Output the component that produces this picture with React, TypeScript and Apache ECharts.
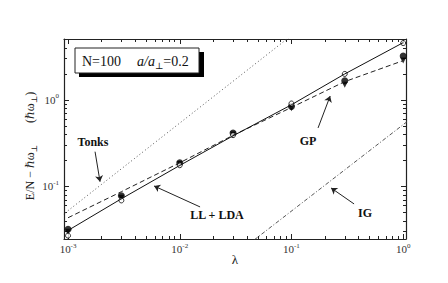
import React, { useEffect, useRef } from "react";
import * as echarts from "echarts";

// ---- data ----
const lambdas = [0.001, 0.003, 0.01, 0.03, 0.1, 0.3, 1];
const llLda = [0.031, 0.072, 0.175, 0.385, 0.88, 2.0, 4.6];
const gpLine = [0.0435, 0.087, 0.188, 0.39, 0.82, 1.63, 2.85];
const dmcFilled = [0.032, 0.078, 0.188, 0.415, 0.84, 1.67, 3.22];
const dmcTri = [0.03, 0.074, 0.182, 0.4, 0.8, 1.5, 2.86];
const dmcOpen = [0.027, 0.069, 0.176, 0.392, 0.91, 2.0, 4.55];
const tonksX = [0.000794, 0.1];
const tonksY = [0.0416, 5.57];
const igX = [0.03, 1.1];
const igY = [0.0156, 0.57];

const xMajor = [0.001, 0.01, 0.1, 1];
const yMajor = [0.1, 1];
const xMinor = [-3, -2, -1].flatMap((d) => [2, 3, 4, 5, 6, 7, 8, 9].map((m) => +(m * Math.pow(10, d)).toPrecision(3)));
const yMinor = [-2, -1, 0].flatMap((d) => [2, 3, 4, 5, 6, 7, 8, 9].map((m) => +(m * Math.pow(10, d)).toPrecision(3)));

// annotation arrows: [fromX, fromY, toX, toY] in data coordinates
const arrows = [
  [0.001745, 0.2525, 0.001934, 0.1136], // Tonks
  [0.173, 0.475, 0.222, 1.11], // GP
  [0.0152, 0.058, 0.00589, 0.1013], // LL + LDA
  [0.3635, 0.0628, 0.2262, 0.0961], // IG
];

const SERIF = "'Liberation Serif', 'DejaVu Serif', serif";
const AX = "#222";

const pairs = (xs: number[], ys: number[]) => xs.map((x, i) => [x, ys[i]]);

function logLabel(v: number) {
  const e = Math.round(Math.log10(v));
  return `{b|10}{s|${e}}`;
}

const labelRich = {
  b: { fontFamily: SERIF, fontSize: 11, color: "#333", lineHeight: 14, verticalAlign: "middle" },
  s: { fontFamily: SERIF, fontSize: 7, color: "#333", lineHeight: 7, verticalAlign: "top" },
};

export default function App() {
  const ref = useRef<HTMLDivElement>(null);
  useEffect(() => {
    if (!ref.current) return;
    const chart = echarts.init(ref.current, null, { renderer: "svg" });
    const xBase = { type: "log", min: 0.00092, max: 1.06, splitLine: { show: false } };
    const yBase = { type: "log", min: 0.0247, max: 5.07, splitLine: { show: false } };
    const line = { show: true, lineStyle: { color: AX, width: 1.2 } };
    const noLine = { show: false };
    const noLabel = { show: false };
    const major = (len: number, vals: number[]) => ({
      show: true,
      inside: true,
      length: len,
      customValues: vals,
      lineStyle: { color: AX, width: 1 },
    });
    const option: any = {
      animation: false,
      backgroundColor: "#fff",
      grid: { left: 64, right: 42, top: 39, bottom: 44, containLabel: false },
      xAxis: [
        {
          ...xBase,
          position: "bottom",
          axisLine: line,
          axisTick: major(5, xMajor),
          axisLabel: { show: true, margin: 3, customValues: xMajor, formatter: logLabel, rich: labelRich },
        },
        { ...xBase, position: "bottom", axisLine: noLine, axisTick: major(3, xMinor), axisLabel: noLabel },
        { ...xBase, position: "top", axisLine: line, axisTick: major(5, xMajor), axisLabel: noLabel },
        { ...xBase, position: "top", axisLine: noLine, axisTick: major(3, xMinor), axisLabel: noLabel },
      ],
      yAxis: [
        {
          ...yBase,
          position: "left",
          axisLine: line,
          axisTick: major(5, yMajor),
          axisLabel: { show: true, margin: 5, customValues: yMajor, formatter: logLabel, rich: labelRich },
        },
        { ...yBase, position: "left", axisLine: noLine, axisTick: major(3, yMinor), axisLabel: noLabel },
        { ...yBase, position: "right", axisLine: line, axisTick: major(5, yMajor), axisLabel: noLabel },
        { ...yBase, position: "right", axisLine: noLine, axisTick: major(3, yMinor), axisLabel: noLabel },
      ],
      series: [
        {
          name: "Tonks",
          type: "line",
          data: pairs(tonksX, tonksY),
          symbol: "none",
          lineStyle: { color: "#555", width: 1, type: [1, 2.5] },
          silent: true,
        },
        {
          name: "IG",
          type: "line",
          data: pairs(igX, igY),
          symbol: "none",
          lineStyle: { color: "#444", width: 0.9, type: [4, 2, 1, 2] },
          silent: true,
          markLine: {
            silent: true,
            symbol: ["none", "arrow"],
            symbolSize: 6,
            label: { show: false },
            lineStyle: { color: "#222", width: 1, type: "solid" },
            emphasis: { disabled: true },
            data: arrows.map((a) => [{ coord: [a[0], a[1]] }, { coord: [a[2], a[3]] }]),
          },
        },
        {
          name: "GP",
          type: "line",
          data: pairs(lambdas, gpLine),
          symbol: "none",
          lineStyle: { color: "#222", width: 1, type: [5, 3] },
          silent: true,
        },
        {
          name: "LL + LDA",
          type: "line",
          data: pairs(lambdas, llLda),
          symbol: "none",
          lineStyle: { color: "#111", width: 1 },
          silent: true,
        },
        {
          name: "DMC tri",
          type: "scatter",
          data: pairs(lambdas, dmcTri),
          symbol: "triangle",
          symbolRotate: 180,
          symbolSize: 6,
          itemStyle: { color: "#000" },
          silent: true,
        },
        {
          name: "DMC filled",
          type: "scatter",
          data: pairs(lambdas, dmcFilled),
          symbol: "circle",
          symbolSize: 7,
          itemStyle: { color: "#000" },
          silent: true,
        },
        {
          name: "DMC open",
          type: "scatter",
          data: pairs(lambdas, dmcOpen),
          symbol: "circle",
          symbolSize: 5,
          itemStyle: { color: "#fff", borderColor: "#000", borderWidth: 1 },
          silent: true,
        },
      ],
      graphic: [
        { type: "rect", shape: { x: 79, y: 52, width: 125, height: 25 }, style: { fill: "#000" }, silent: true },
        {
          type: "rect",
          shape: { x: 75, y: 48, width: 124, height: 25 },
          style: { fill: "#fff", stroke: "#222", lineWidth: 1 },
          silent: true,
        },
        {
          type: "text",
          x: 82,
          y: 61,
          style: {
            text: "{n|N=100}{g| }{i|a/a}{sub|⊥}{n|=0.2}",
            verticalAlign: "middle",
            rich: {
              n: { fontFamily: SERIF, fontSize: 14, lineHeight: 18, fill: "#111", verticalAlign: "middle" },
              g: { fontFamily: SERIF, fontSize: 14, lineHeight: 18, width: 16 },
              i: { fontFamily: SERIF, fontSize: 14, lineHeight: 18, fill: "#111", fontStyle: "italic", verticalAlign: "middle" },
              sub: { fontFamily: SERIF, fontSize: 9, lineHeight: 9, fill: "#111", verticalAlign: "bottom" },
            },
          },
          silent: true,
        },
        {
          type: "text",
          x: 93,
          y: 142,
          style: { text: "Tonks", fontFamily: SERIF, fontSize: 12, fontWeight: "bold", fill: "#111", align: "center", verticalAlign: "middle" },
          silent: true,
        },
        {
          type: "text",
          x: 308,
          y: 141,
          style: { text: "GP", fontFamily: SERIF, fontSize: 12, fontWeight: "bold", fill: "#111", align: "center", verticalAlign: "middle" },
          silent: true,
        },
        {
          type: "text",
          x: 217,
          y: 215,
          style: { text: "LL + LDA", fontFamily: SERIF, fontSize: 12, fontWeight: "bold", fill: "#111", align: "center", verticalAlign: "middle" },
          silent: true,
        },
        {
          type: "text",
          x: 365,
          y: 213,
          style: { text: "IG", fontFamily: SERIF, fontSize: 12, fontWeight: "bold", fill: "#111", align: "center", verticalAlign: "middle" },
          silent: true,
        },
        {
          type: "text",
          x: 235,
          y: 259,
          style: { text: "λ", fontFamily: SERIF, fontSize: 13, fill: "#222", align: "center", verticalAlign: "middle" },
          silent: true,
        },
        {
          type: "text",
          x: 30,
          y: 146,
          rotation: Math.PI / 2,
          style: {
            text: "{n|E/N − ℏω}{sub|⊥}{g| }{n|(ℏω}{sub|⊥}{n|)}",
            align: "center",
            verticalAlign: "middle",
            rich: {
              n: { fontFamily: SERIF, fontSize: 12, lineHeight: 16, fill: "#222", verticalAlign: "middle" },
              g: { fontFamily: SERIF, fontSize: 12, lineHeight: 16, width: 22 },
              sub: { fontFamily: SERIF, fontSize: 8, lineHeight: 8, fill: "#222", verticalAlign: "bottom" },
            },
          },
          silent: true,
        },
      ],
    };
    chart.setOption(option);
    return () => chart.dispose();
  }, []);
  return <div ref={ref} style={{ width: 448, height: 283, position: "absolute", left: 0, top: 0 }} />;
}
